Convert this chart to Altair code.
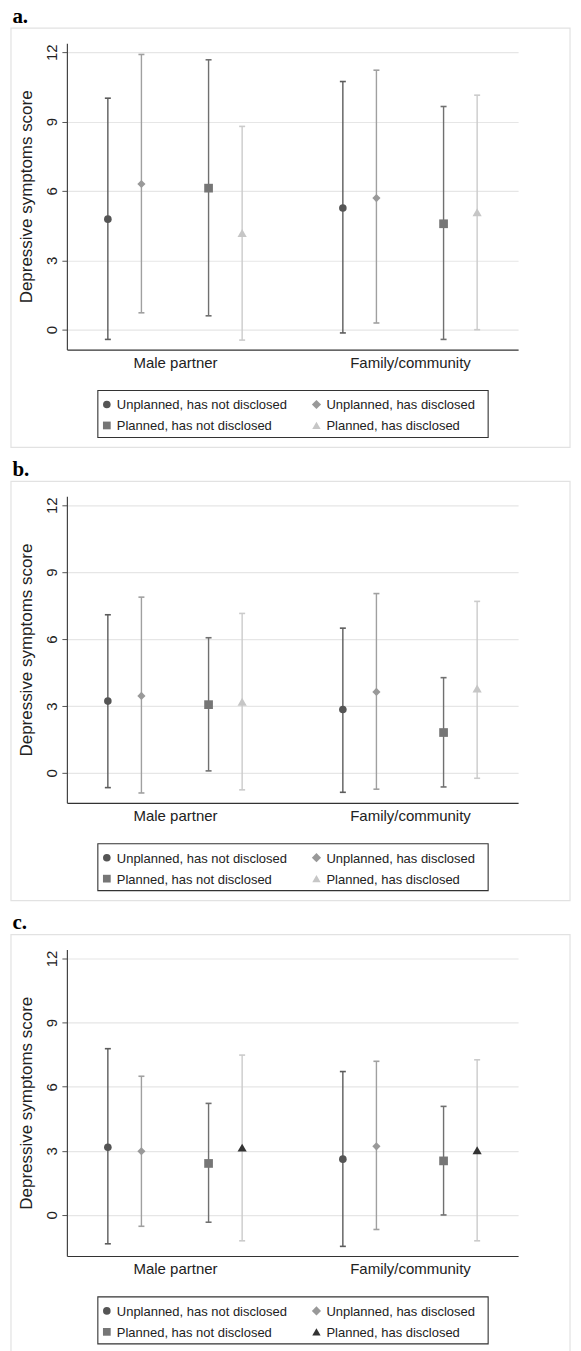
import altair as alt
import pandas as pd

GROUPS = ["Male partner", "Family/community"]
SERIES = [
    "Unplanned, has not disclosed",
    "Unplanned, has disclosed",
    "Planned, has not disclosed",
    "Planned, has disclosed",
]

# values ordered: Male partner (4 series), then Family/community (4 series)
A_MEAN = [4.78, 6.30, 6.12, 4.18, 5.26, 5.69, 4.58, 5.08]
A_LO = [-0.42, 0.73, 0.60, -0.45, -0.14, 0.29, -0.42, 0.00]
A_HI = [10.01, 11.90, 11.67, 8.79, 10.73, 11.22, 9.65, 10.14]

B_MEAN = [3.22, 3.45, 3.06, 3.19, 2.84, 3.63, 1.81, 3.78]
B_LO = [-0.66, -0.90, 0.09, -0.76, -0.87, -0.73, -0.63, -0.24]
B_HI = [7.09, 7.88, 6.06, 7.15, 6.49, 8.04, 4.27, 7.69]

C_MEAN = [3.17, 2.98, 2.41, 3.15, 2.61, 3.21, 2.53, 3.03]
C_LO = [-1.35, -0.53, -0.34, -1.21, -1.47, -0.68, 0.00, -1.21]
C_HI = [7.78, 6.49, 5.22, 7.48, 6.71, 7.19, 5.08, 7.26]

Y_TICKS = [0, 3, 6, 9, 12]

W, H = 452, 307
FONT = "Liberation Sans"
SHAPES = ["circle", "diamond", "square", "triangle-up"]
SIZES = [58, 85, 60, 70]
BAR_COLORS = ["#5c5c5c", "#a0a0a0", "#707070", "#cbcbcb"]
MARK_AB = ["#555555", "#999999", "#767676", "#c6c6c6"]
MARK_C = ["#555555", "#999999", "#767676", "#333333"]
SLOT = [1, 2, 4, 5]
ONE = pd.DataFrame({"k": [0]})


def build_df(mean, lo, hi):
    rows = []
    for gi, g in enumerate(GROUPS):
        for si, s in enumerate(SERIES):
            k = gi * 4 + si
            rows.append({"group": g, "series": s, "xpos": gi * 7 + SLOT[si],
                         "mean": mean[k], "lo": lo[k], "hi": hi[k]})
    return pd.DataFrame(rows)


def legend_layers(mark_colors):
    box = alt.Chart(ONE).mark_rect(fill="white", stroke="#333333", strokeWidth=1.1).encode(
        x=alt.value(31), x2=alt.value(422), y=alt.value(348), y2=alt.value(395))
    out = [box]
    for i, s in enumerate(SERIES):
        col, row = i % 2, i // 2
        sx = 40 + 210 * col
        sy = 362 + 21 * row
        out.append(alt.Chart(ONE).mark_point(
            shape=SHAPES[i], filled=True, fill=mark_colors[i], size=SIZES[i],
            strokeWidth=0, opacity=1).encode(x=alt.value(sx), y=alt.value(sy)))
        out.append(alt.Chart(ONE).mark_text(
            align="left", baseline="middle", font=FONT, fontSize=13, color="#222222").encode(
            x=alt.value(sx + 10), y=alt.value(sy + 1), text=alt.value(s)))
    return out


def panel(label, mean, lo, hi, ydom, mark_colors):
    df = build_df(mean, lo, hi)
    xscale = alt.Scale(domain=[-0.22, 13.22], nice=False, zero=False)
    yscale = alt.Scale(domain=ydom, nice=False, zero=False)
    xaxis = alt.Axis(values=[3, 10], title=None, grid=False, ticks=False,
                     labelExpr="datum.value == 3 ? 'Male partner' : 'Family/community'",
                     labelFont=FONT, labelFontSize=15, labelColor="#222222",
                     labelPadding=6, domainColor="#333333", domainWidth=1.2)
    yaxis = alt.Axis(values=Y_TICKS, title="Depressive symptoms score",
                     titleFont=FONT, titleFontSize=17, titleFontWeight="normal",
                     titleColor="#222222", titlePadding=9,
                     labelAngle=270, labelAlign="center", labelBaseline="bottom",
                     labelFont=FONT, labelFontSize=15, labelColor="#222222",
                     labelPadding=2, tickSize=5, tickColor="#555555",
                     domainColor="#444444", domainWidth=1.2,
                     grid=True, gridColor="#e6e6e6", gridWidth=1.2)
    x = alt.X("xpos:Q", scale=xscale, axis=xaxis)
    bar_color = alt.Color("series:N", scale=alt.Scale(domain=SERIES, range=BAR_COLORS), legend=None)

    frame = alt.Chart(ONE).mark_rect(
        fill="white", fillOpacity=0, stroke="#e2e2e2", strokeWidth=1.2
    ).encode(x=alt.value(-56), x2=alt.value(W + 52), y=alt.value(-15), y2=alt.value(H + 98))

    base = alt.Chart(df)
    rules = base.mark_rule(strokeWidth=1.4).encode(
        x=x, y=alt.Y("lo:Q", scale=yscale, axis=yaxis), y2="hi:Q", color=bar_color)
    cap_lo = base.mark_point(shape="stroke", size=36, strokeWidth=1.6, filled=False, opacity=1).encode(
        x=x, y=alt.Y("lo:Q", scale=yscale), color=bar_color)
    cap_hi = base.mark_point(shape="stroke", size=36, strokeWidth=1.6, filled=False, opacity=1).encode(
        x=x, y=alt.Y("hi:Q", scale=yscale), color=bar_color)
    pts = base.mark_point(filled=True, opacity=1, strokeWidth=0).encode(
        x=x, y=alt.Y("mean:Q", scale=yscale),
        fill=alt.Fill("series:N", scale=alt.Scale(domain=SERIES, range=mark_colors), legend=None),
        shape=alt.Shape("series:N", scale=alt.Scale(domain=SERIES, range=SHAPES), legend=None),
        size=alt.Size("series:N", scale=alt.Scale(domain=SERIES, range=SIZES), legend=None),
    )
    return alt.layer(frame, rules, cap_lo, cap_hi, pts, *legend_layers(mark_colors)).properties(
        width=W, height=H,
        title=alt.TitleParams(label, anchor="start", font="Liberation Serif", fontSize=21,
                              fontWeight="bold", color="black", offset=-2, dx=2, dy=-3),
    )


pa = panel("a.", A_MEAN, A_LO, A_HI, [-0.86, 12.39], MARK_AB)
pb = panel("b.", B_MEAN, B_LO, B_HI, [-1.34, 12.40], MARK_AB)
pc = panel("c.", C_MEAN, C_LO, C_HI, [-1.92, 12.42], MARK_C)

chart = alt.vconcat(pa, pb, pc, spacing=10).properties(
    padding={"left": 2, "top": -4, "right": 2, "bottom": 0}
).resolve_scale(
    x="independent", y="independent", color="independent",
    fill="independent", shape="independent", size="independent"
).configure_view(strokeWidth=0)

chart.save("out.html", embed_options={"renderer": "svg", "actions": False})
